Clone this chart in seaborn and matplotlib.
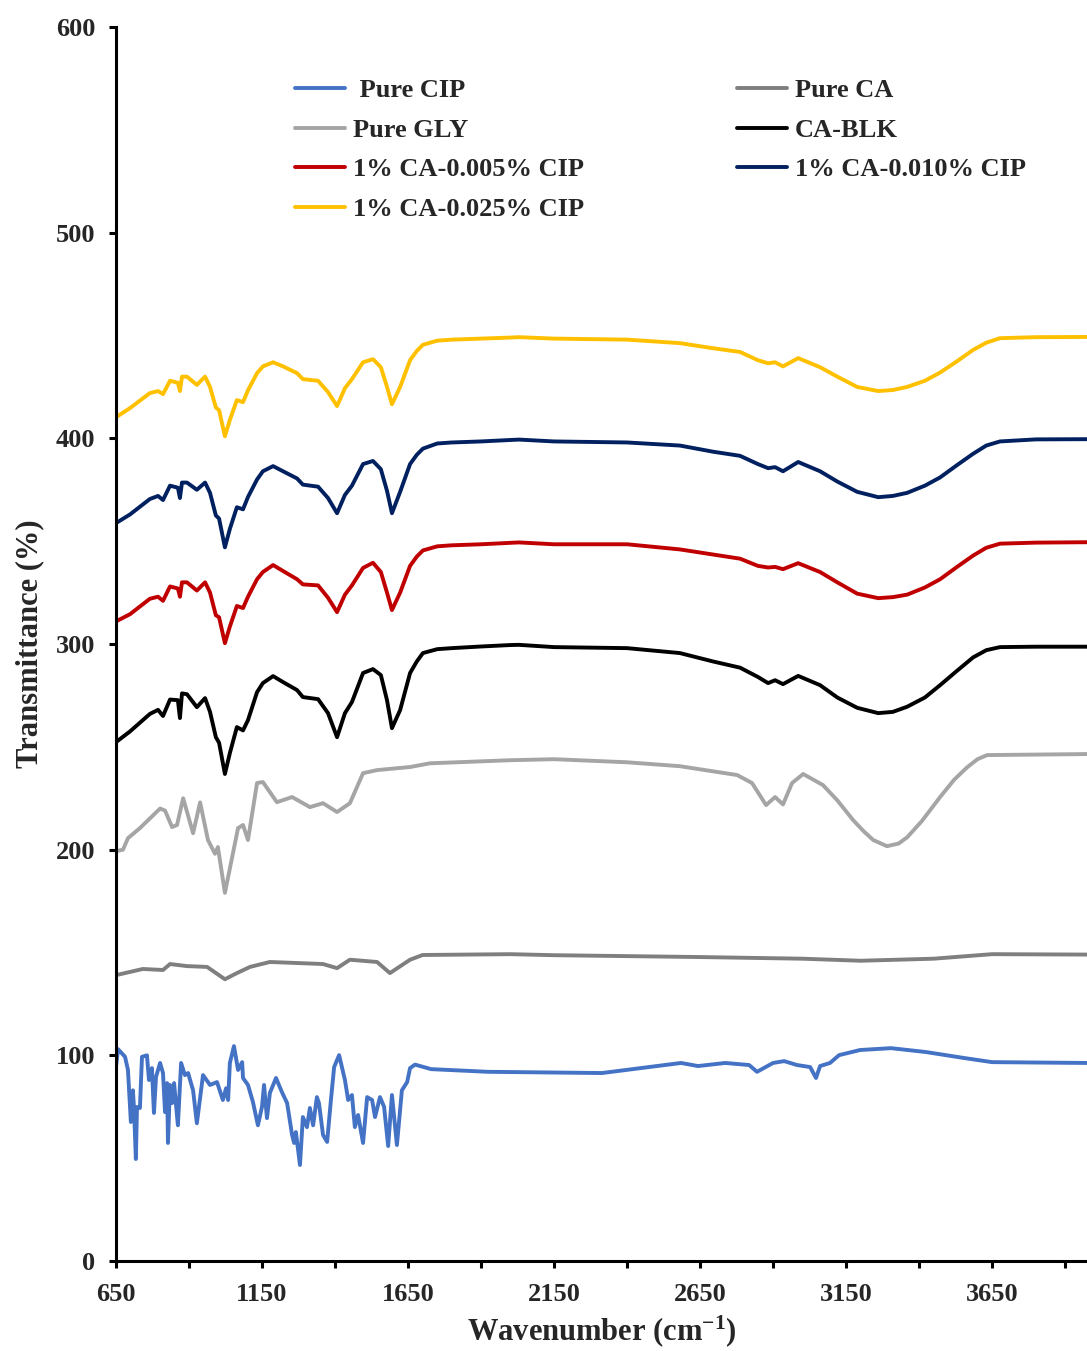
import matplotlib
matplotlib.use("Agg")
import matplotlib.pyplot as plt
import seaborn as sns
from matplotlib.ticker import FixedLocator

# wavenumber grid shared by the CA membranes
wn_mem = [650, 698, 766, 794, 811, 835, 862, 869, 876, 893, 927, 955, 972, 992, 1003,
          1023, 1040, 1064, 1085, 1102, 1133, 1153, 1188, 1222, 1270, 1290, 1342, 1376,
          1407, 1434, 1458, 1496, 1530, 1557, 1578, 1595, 1623, 1657, 1680, 1701, 1750, 1800,
          1900, 2000, 2030, 2150, 2400, 2581, 2695, 2787, 2848, 2883, 2907, 2934, 2986,
          3061, 3120, 3188, 3260, 3310, 3359, 3420, 3472, 3530, 3585, 3630, 3677, 3800, 3975]

ca_025 = [410.3, 414.7, 422, 423, 421.5, 428, 427, 423, 430, 430, 426, 430, 425, 415, 413.7,
          401, 409, 418.6, 417.6, 423.4, 431.7, 435, 437, 435, 431.7, 428.8, 428, 422.5,
          415.7, 424.4, 428.8, 437, 438.5, 434.6, 425, 416.6, 425, 438, 442.5, 445.5, 447.5, 448,
          448.5, 449, 449.2, 448.5, 448, 446.3, 443.8, 442, 438, 436.5, 437, 435, 439,
          434.6, 430, 425, 423, 423.5, 425, 428, 432, 437.5, 443, 446.5, 448.7, 449.2, 449.3]

ca_010 = [358.8, 363, 370.5, 372, 370, 377, 376, 371, 378.5, 378.5, 375, 378.5, 373.5, 362.5, 361,
          347, 356, 366.5, 365.5, 371.5, 380, 384, 386.5, 384, 380.5, 377.5, 376.5, 371,
          363.6, 372.5, 377, 387.5, 389, 385, 374.5, 363.6, 374, 387.5, 392, 395, 397.5, 398,
          398.5, 399.2, 399.4, 398.5, 398, 396.5, 393.5, 391.5, 387.5, 385.5, 386, 384, 388.5,
          384, 379, 374, 371.4, 372, 373.5, 377, 381, 387, 392.5, 396.5, 398.5, 399.5, 399.6]

ca_005 = [311, 314.5, 322, 323, 321, 328, 327, 323, 330, 330, 326, 330, 325, 314, 313,
          300.4, 308.5, 318.5, 317.5, 323, 331.5, 335, 338.4, 335.5, 331.5, 329, 328.5, 322.5,
          315.5, 324, 328.5, 337, 339.5, 335, 325, 316.5, 325, 338, 342.5, 345.5, 347.5, 348,
          348.5, 349.2, 349.4, 348.5, 348.5, 346, 343.5, 341.5, 338, 337.2, 337.5, 336.4, 339.3,
          335, 330, 324.5, 322.3, 322.8, 324, 327.5, 331.5, 337.5, 343, 346.8, 348.8, 349.3, 349.5]

ca_blk = [252.3, 257.5, 266, 268, 265, 273, 272.7, 264, 276, 275.6, 269.3, 273.7, 267, 254.7, 252,
          236.8, 247, 259.6, 258, 263, 276.6, 281, 284.4, 281.5, 277.6, 274.2, 273.2, 266.4,
          254.7, 266.4, 271.8, 285.9, 287.8, 284.9, 272.7, 259.1, 267.9, 285.9, 291.5, 295.6, 297.5, 298,
          298.8, 299.5, 299.6, 298.5, 298, 295.6, 291.5, 288.5, 284, 281, 282.4, 280.5, 284.5,
          280, 274, 269, 266.4, 267, 269.5, 274, 280, 287, 293.5, 297, 298.5, 298.7, 298.7]

# pure glycerol
wn_gly = [650, 674, 691, 732, 801, 818, 842, 859, 880, 914, 938, 965, 989, 999, 1023,
          1068, 1085, 1102, 1133, 1153, 1201, 1253, 1314, 1359, 1407, 1451, 1496, 1544,
          1657, 1725, 2000, 2150, 2400, 2581, 2667, 2777, 2828, 2876, 2907, 2934, 2965,
          3003, 3071, 3120, 3174, 3210, 3243, 3290, 3330, 3359, 3410, 3472, 3520, 3564,
          3600, 3633, 3975]
gly = [199.3, 200, 205.6, 210.5, 220, 219, 211, 212, 225, 208, 223, 204.7, 198, 201.3, 179,
       210.5, 212, 204.7, 232.4, 232.9, 223.1, 225.6, 220.7, 222.6, 218.3, 222.6, 237.2, 238.7,
       240.2, 242, 243.5, 244, 242.5, 240.6, 238.7, 236.3, 232.4, 221.7, 225.6, 222, 232.4,
       236.8, 231.4, 224, 214.4, 209, 204.7, 201.7, 203, 206, 214, 225.6, 234, 240,
       244, 246, 246.5]

# pure cellulose acetate
wn_ca = [650, 742, 811, 835, 893, 962, 1023, 1064, 1109, 1177, 1270, 1359, 1407, 1451,
         1544, 1588, 1657, 1700, 2000, 2150, 2650, 3000, 3200, 3450, 3650, 3975]
pure_ca = [139, 142, 141.5, 144.4, 143.4, 143, 137, 140, 143, 145.4, 144.9, 144.4, 142.4, 146.5,
           145.4, 140, 146.5, 148.8, 149.2, 148.7, 147.8, 147, 146, 147, 149.2, 149]

# pure ciprofloxacin
wn_cip = [650, 657, 681, 691, 701, 708, 712, 718, 722, 732, 739, 756, 763, 773, 780, 787,
          801, 811, 818, 825, 828, 835, 842, 849, 855, 862, 873, 886, 897, 914, 927, 948,
          972, 996, 1016, 1027, 1034, 1040, 1054, 1068, 1082, 1085, 1102, 1119, 1136, 1150,
          1157, 1167, 1177, 1198, 1218, 1236, 1253, 1260, 1266, 1280, 1290, 1304, 1314, 1325,
          1338, 1345, 1359, 1373, 1386, 1397, 1414, 1434, 1445, 1458, 1468, 1479, 1496, 1510,
          1527, 1537, 1554, 1568, 1582, 1595, 1612, 1629, 1647, 1657, 1674, 1729, 1924, 2314,
          2585, 2643, 2736, 2818, 2845, 2900, 2938, 2982, 3027, 3047, 3061, 3095, 3126, 3198,
          3304, 3424, 3550, 3650, 3975]
cip = [94.3, 103, 99.3, 92.9, 67.6, 83, 73.4, 49.6, 74.9, 74.4, 99.3, 100, 88, 93.8, 72, 89.5,
       96.3, 91.4, 72.4, 86.5, 57.4, 85.6, 76.8, 86.5, 76.8, 66, 96.3, 90.4, 91.4, 83, 67, 90.4,
       85.6, 87, 78.3, 84, 78.3, 96.3, 104.5, 92.9, 96.7, 89, 85.6, 77.3, 66, 75,
       85.6, 69.5, 81.7, 89, 82.2, 76.8, 61.3, 57.4, 62.7, 46.7, 70, 65.1, 74.4, 66,
       79.7, 76.8, 61.3, 57.9, 78.3, 94.3, 100.1, 88, 78.3, 80.7, 65.1, 71, 57.4, 79.7,
       78.3, 70, 79.7, 75, 55.9, 80.7, 56.4, 83, 87, 93.8, 95.5, 93.3, 92, 91.4,
       96.3, 94.8, 96.3, 95.3, 92, 96.3, 97.2, 95.3, 94.3, 89, 94.8, 96.3, 100.1, 102.6,
       103.5, 101.6, 98.8, 96.7, 96.3]

x_ticks = [650, 1150, 1650, 2150, 2650, 3150, 3650]
x_minor = [900, 1400, 1900, 2400, 2900, 3400, 3900]
y_ticks = [0, 100, 200, 300, 400, 500, 600]

sns.set_style("white")
plt.rcParams['font.family'] = ['Liberation Serif', 'DejaVu Serif']
plt.rcParams['font.weight'] = 'bold'
plt.rcParams['mathtext.fontset'] = 'custom'
plt.rcParams['mathtext.rm'] = 'Liberation Serif:bold'
plt.rcParams['mathtext.default'] = 'rm'

fig = plt.figure(figsize=(10.87, 13.51), dpi=100)
ax = fig.add_axes([0.1067, 0.0666, 0.8933, 0.9134])

lw = 2.8
line_kw = dict(lw=lw, ax=ax, solid_joinstyle='round', solid_capstyle='round')
l_cip = sns.lineplot(x=wn_cip, y=cip, color='#4472C4', **line_kw).lines[-1]
l_ca = sns.lineplot(x=wn_ca, y=pure_ca, color='#7F7F7F', **line_kw).lines[-1]
l_gly = sns.lineplot(x=wn_gly, y=gly, color='#A5A5A5', **line_kw).lines[-1]
l_blk = sns.lineplot(x=wn_mem, y=ca_blk, color='black', **line_kw).lines[-1]
l_005 = sns.lineplot(x=wn_mem, y=ca_005, color='#C00000', **line_kw).lines[-1]
l_010 = sns.lineplot(x=wn_mem, y=ca_010, color='#002060', **line_kw).lines[-1]
l_025 = sns.lineplot(x=wn_mem, y=ca_025, color='#FFC000', **line_kw).lines[-1]

ax.set_xlim(650, 3975)
ax.set_ylim(0, 600)
ax.xaxis.set_major_locator(FixedLocator(x_ticks))
ax.xaxis.set_minor_locator(FixedLocator(x_minor))
ax.yaxis.set_major_locator(FixedLocator(y_ticks))

for s in ['top', 'right']:
    ax.spines[s].set_visible(False)
for s in ['left', 'bottom']:
    ax.spines[s].set_linewidth(2.2)
    ax.spines[s].set_color('black')

ax.tick_params(axis='both', which='both', direction='out', length=5, width=2.2,
               color='black', labelsize=19)
ax.tick_params(axis='x', which='both', bottom=True, pad=11)
ax.tick_params(axis='y', left=True, pad=10)
for t in ax.get_xticklabels() + ax.get_yticklabels():
    t.set_fontweight('bold')

ax.set_xlabel('Wavenumber (cm$^{-1}$)', fontsize=22, fontweight='bold', labelpad=5)
ax.set_ylabel('Transmittance (%)', fontsize=22, fontweight='bold', labelpad=8)

handles = [l_cip, l_gly, l_005, l_025, l_ca, l_blk, l_010]
labels = [' Pure CIP', 'Pure GLY', '1% CA-0.005% CIP', '1% CA-0.025% CIP',
          'Pure CA', 'CA-BLK', '1% CA-0.010% CIP']
ax.legend(handles, labels, ncol=2, loc='upper left', bbox_to_anchor=(0.184, 0.958),
          frameon=False, borderpad=0, borderaxespad=0, handlelength=1.9,
          handletextpad=0.3, labelspacing=0.61, columnspacing=5.8,
          prop={'family': 'Liberation Serif', 'weight': 'bold', 'size': 19})

fig.savefig('out.png', dpi=100)
